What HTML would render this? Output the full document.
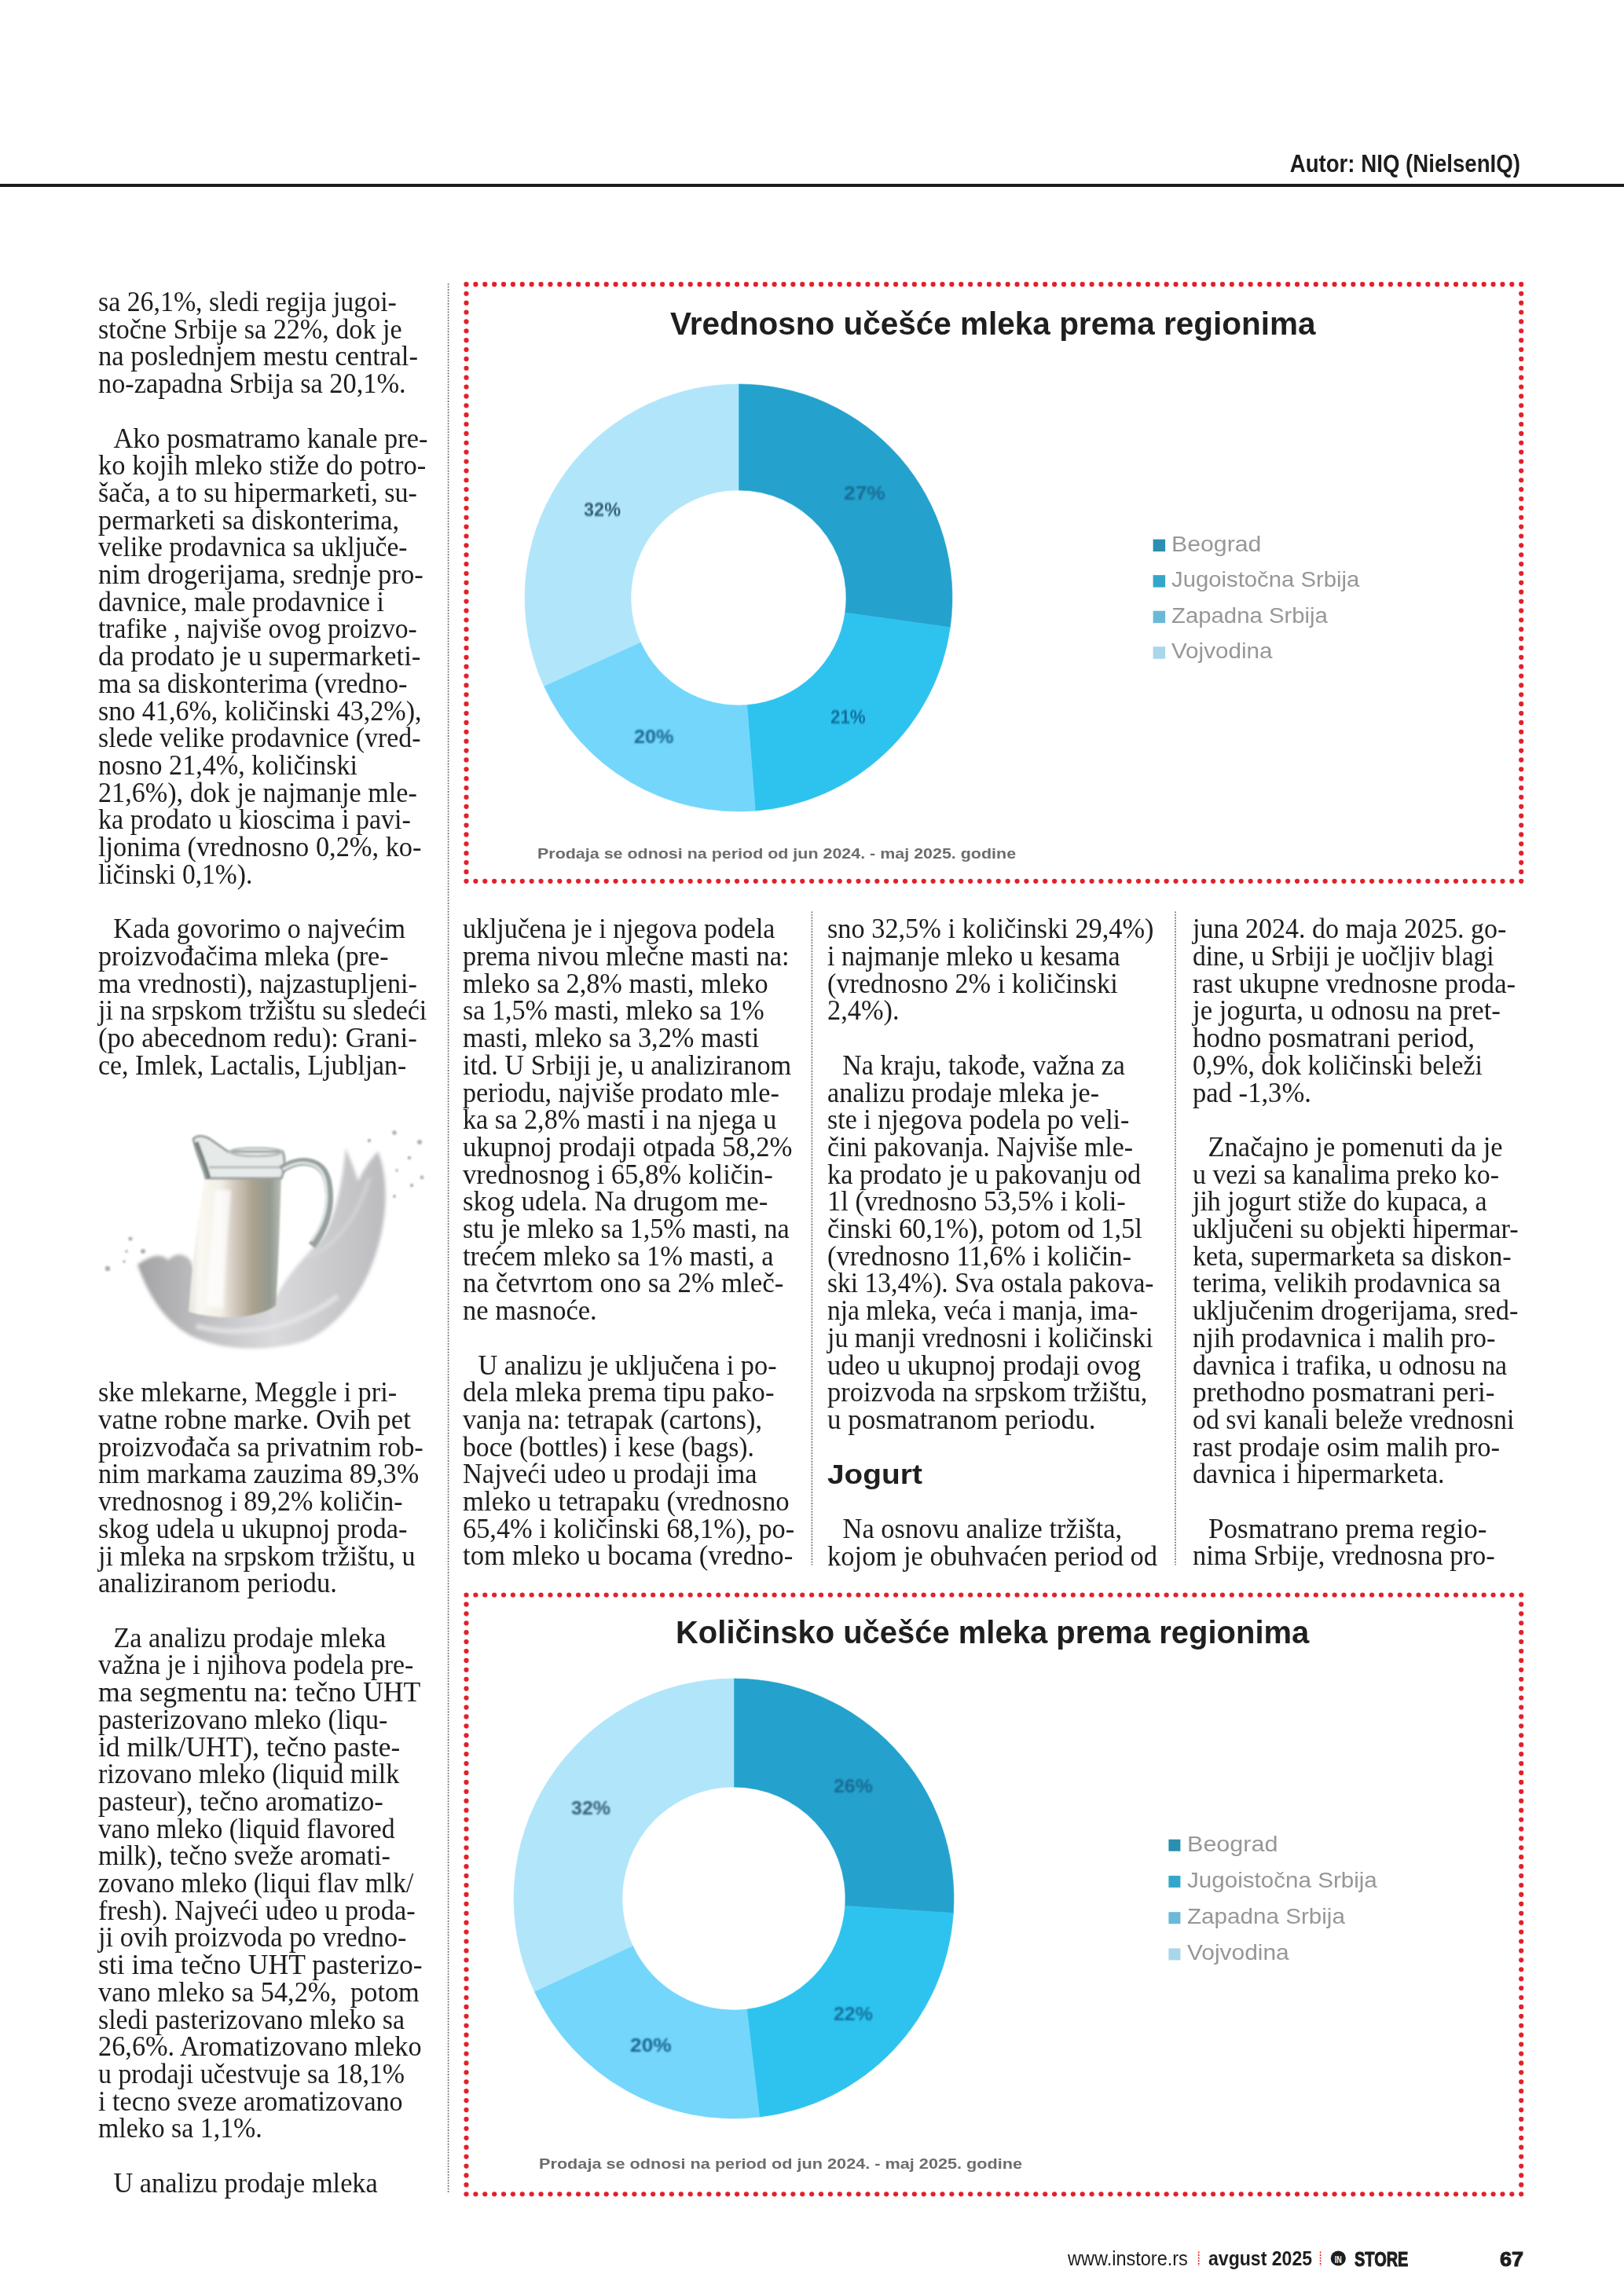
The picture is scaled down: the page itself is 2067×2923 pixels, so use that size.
<!DOCTYPE html>
<html lang="sr"><head><meta charset="utf-8"><title>InStore - mleko</title>
<style>
html,body{margin:0;padding:0;background:#fff;}
body{width:2067px;height:2923px;position:relative;overflow:hidden;}
.ov{position:absolute;left:0;top:0;}
.t{position:absolute;white-space:nowrap;}
.col{position:absolute;transform-origin:left top;font-family:'Liberation Serif', serif;font-size:36px;line-height:34.71px;color:#1d1d1b;white-space:nowrap;}
.bl{height:34.71px;transform-origin:left center;}
</style></head>
<body>
<svg class="ov" width="2067" height="2923" viewBox="0 0 2067 2923">
<rect x="0" y="234" width="2067" height="4" fill="#1d1d1b"/>
<line x1="570.6" y1="361" x2="570.6" y2="2792" stroke="#6e6e6e" stroke-width="1.7" stroke-dasharray="1.8 1.75"/>
<line x1="1033.4" y1="1160.5" x2="1033.4" y2="1992.5" stroke="#6e6e6e" stroke-width="1.7" stroke-dasharray="1.8 1.75"/>
<line x1="1496" y1="1160.5" x2="1496" y2="1992.5" stroke="#6e6e6e" stroke-width="1.7" stroke-dasharray="1.8 1.75"/>
<g fill="#e3202a"><circle cx="593.5" cy="361.9" r="3.1"/><circle cx="593.5" cy="373.77" r="3.1"/><circle cx="593.5" cy="385.65" r="3.1"/><circle cx="593.5" cy="397.52" r="3.1"/><circle cx="593.5" cy="409.39" r="3.1"/><circle cx="593.5" cy="421.27" r="3.1"/><circle cx="593.5" cy="433.14" r="3.1"/><circle cx="593.5" cy="445.01" r="3.1"/><circle cx="593.5" cy="456.89" r="3.1"/><circle cx="593.5" cy="468.76" r="3.1"/><circle cx="593.5" cy="480.63" r="3.1"/><circle cx="593.5" cy="492.51" r="3.1"/><circle cx="593.5" cy="504.38" r="3.1"/><circle cx="593.5" cy="516.25" r="3.1"/><circle cx="593.5" cy="528.13" r="3.1"/><circle cx="593.5" cy="540.0" r="3.1"/><circle cx="593.5" cy="551.88" r="3.1"/><circle cx="593.5" cy="563.75" r="3.1"/><circle cx="593.5" cy="575.62" r="3.1"/><circle cx="593.5" cy="587.5" r="3.1"/><circle cx="593.5" cy="599.37" r="3.1"/><circle cx="593.5" cy="611.24" r="3.1"/><circle cx="593.5" cy="623.12" r="3.1"/><circle cx="593.5" cy="634.99" r="3.1"/><circle cx="593.5" cy="646.86" r="3.1"/><circle cx="593.5" cy="658.74" r="3.1"/><circle cx="593.5" cy="670.61" r="3.1"/><circle cx="593.5" cy="682.48" r="3.1"/><circle cx="593.5" cy="694.36" r="3.1"/><circle cx="593.5" cy="706.23" r="3.1"/><circle cx="593.5" cy="718.1" r="3.1"/><circle cx="593.5" cy="729.98" r="3.1"/><circle cx="593.5" cy="741.85" r="3.1"/><circle cx="593.5" cy="753.72" r="3.1"/><circle cx="593.5" cy="765.6" r="3.1"/><circle cx="593.5" cy="777.47" r="3.1"/><circle cx="593.5" cy="789.34" r="3.1"/><circle cx="593.5" cy="801.22" r="3.1"/><circle cx="593.5" cy="813.09" r="3.1"/><circle cx="593.5" cy="824.96" r="3.1"/><circle cx="593.5" cy="836.84" r="3.1"/><circle cx="593.5" cy="848.71" r="3.1"/><circle cx="593.5" cy="860.58" r="3.1"/><circle cx="593.5" cy="872.46" r="3.1"/><circle cx="593.5" cy="884.33" r="3.1"/><circle cx="593.5" cy="896.2" r="3.1"/><circle cx="593.5" cy="908.08" r="3.1"/><circle cx="593.5" cy="919.95" r="3.1"/><circle cx="593.5" cy="931.82" r="3.1"/><circle cx="593.5" cy="943.7" r="3.1"/><circle cx="593.5" cy="955.57" r="3.1"/><circle cx="593.5" cy="967.45" r="3.1"/><circle cx="593.5" cy="979.32" r="3.1"/><circle cx="593.5" cy="991.19" r="3.1"/><circle cx="593.5" cy="1003.07" r="3.1"/><circle cx="593.5" cy="1014.94" r="3.1"/><circle cx="593.5" cy="1026.81" r="3.1"/><circle cx="593.5" cy="1038.69" r="3.1"/><circle cx="593.5" cy="1050.56" r="3.1"/><circle cx="593.5" cy="1062.43" r="3.1"/><circle cx="593.5" cy="1074.31" r="3.1"/><circle cx="593.5" cy="1086.18" r="3.1"/><circle cx="593.5" cy="1098.05" r="3.1"/><circle cx="593.5" cy="1109.93" r="3.1"/><circle cx="593.5" cy="1121.8" r="3.1"/><circle cx="605.38" cy="361.9" r="3.1"/><circle cx="605.38" cy="1121.8" r="3.1"/><circle cx="617.26" cy="361.9" r="3.1"/><circle cx="617.26" cy="1121.8" r="3.1"/><circle cx="629.15" cy="361.9" r="3.1"/><circle cx="629.15" cy="1121.8" r="3.1"/><circle cx="641.03" cy="361.9" r="3.1"/><circle cx="641.03" cy="1121.8" r="3.1"/><circle cx="652.91" cy="361.9" r="3.1"/><circle cx="652.91" cy="1121.8" r="3.1"/><circle cx="664.79" cy="361.9" r="3.1"/><circle cx="664.79" cy="1121.8" r="3.1"/><circle cx="676.68" cy="361.9" r="3.1"/><circle cx="676.68" cy="1121.8" r="3.1"/><circle cx="688.56" cy="361.9" r="3.1"/><circle cx="688.56" cy="1121.8" r="3.1"/><circle cx="700.44" cy="361.9" r="3.1"/><circle cx="700.44" cy="1121.8" r="3.1"/><circle cx="712.32" cy="361.9" r="3.1"/><circle cx="712.32" cy="1121.8" r="3.1"/><circle cx="724.21" cy="361.9" r="3.1"/><circle cx="724.21" cy="1121.8" r="3.1"/><circle cx="736.09" cy="361.9" r="3.1"/><circle cx="736.09" cy="1121.8" r="3.1"/><circle cx="747.97" cy="361.9" r="3.1"/><circle cx="747.97" cy="1121.8" r="3.1"/><circle cx="759.85" cy="361.9" r="3.1"/><circle cx="759.85" cy="1121.8" r="3.1"/><circle cx="771.73" cy="361.9" r="3.1"/><circle cx="771.73" cy="1121.8" r="3.1"/><circle cx="783.62" cy="361.9" r="3.1"/><circle cx="783.62" cy="1121.8" r="3.1"/><circle cx="795.5" cy="361.9" r="3.1"/><circle cx="795.5" cy="1121.8" r="3.1"/><circle cx="807.38" cy="361.9" r="3.1"/><circle cx="807.38" cy="1121.8" r="3.1"/><circle cx="819.26" cy="361.9" r="3.1"/><circle cx="819.26" cy="1121.8" r="3.1"/><circle cx="831.15" cy="361.9" r="3.1"/><circle cx="831.15" cy="1121.8" r="3.1"/><circle cx="843.03" cy="361.9" r="3.1"/><circle cx="843.03" cy="1121.8" r="3.1"/><circle cx="854.91" cy="361.9" r="3.1"/><circle cx="854.91" cy="1121.8" r="3.1"/><circle cx="866.79" cy="361.9" r="3.1"/><circle cx="866.79" cy="1121.8" r="3.1"/><circle cx="878.68" cy="361.9" r="3.1"/><circle cx="878.68" cy="1121.8" r="3.1"/><circle cx="890.56" cy="361.9" r="3.1"/><circle cx="890.56" cy="1121.8" r="3.1"/><circle cx="902.44" cy="361.9" r="3.1"/><circle cx="902.44" cy="1121.8" r="3.1"/><circle cx="914.32" cy="361.9" r="3.1"/><circle cx="914.32" cy="1121.8" r="3.1"/><circle cx="926.2" cy="361.9" r="3.1"/><circle cx="926.2" cy="1121.8" r="3.1"/><circle cx="938.09" cy="361.9" r="3.1"/><circle cx="938.09" cy="1121.8" r="3.1"/><circle cx="949.97" cy="361.9" r="3.1"/><circle cx="949.97" cy="1121.8" r="3.1"/><circle cx="961.85" cy="361.9" r="3.1"/><circle cx="961.85" cy="1121.8" r="3.1"/><circle cx="973.73" cy="361.9" r="3.1"/><circle cx="973.73" cy="1121.8" r="3.1"/><circle cx="985.62" cy="361.9" r="3.1"/><circle cx="985.62" cy="1121.8" r="3.1"/><circle cx="997.5" cy="361.9" r="3.1"/><circle cx="997.5" cy="1121.8" r="3.1"/><circle cx="1009.38" cy="361.9" r="3.1"/><circle cx="1009.38" cy="1121.8" r="3.1"/><circle cx="1021.26" cy="361.9" r="3.1"/><circle cx="1021.26" cy="1121.8" r="3.1"/><circle cx="1033.15" cy="361.9" r="3.1"/><circle cx="1033.15" cy="1121.8" r="3.1"/><circle cx="1045.03" cy="361.9" r="3.1"/><circle cx="1045.03" cy="1121.8" r="3.1"/><circle cx="1056.91" cy="361.9" r="3.1"/><circle cx="1056.91" cy="1121.8" r="3.1"/><circle cx="1068.79" cy="361.9" r="3.1"/><circle cx="1068.79" cy="1121.8" r="3.1"/><circle cx="1080.67" cy="361.9" r="3.1"/><circle cx="1080.67" cy="1121.8" r="3.1"/><circle cx="1092.56" cy="361.9" r="3.1"/><circle cx="1092.56" cy="1121.8" r="3.1"/><circle cx="1104.44" cy="361.9" r="3.1"/><circle cx="1104.44" cy="1121.8" r="3.1"/><circle cx="1116.32" cy="361.9" r="3.1"/><circle cx="1116.32" cy="1121.8" r="3.1"/><circle cx="1128.2" cy="361.9" r="3.1"/><circle cx="1128.2" cy="1121.8" r="3.1"/><circle cx="1140.09" cy="361.9" r="3.1"/><circle cx="1140.09" cy="1121.8" r="3.1"/><circle cx="1151.97" cy="361.9" r="3.1"/><circle cx="1151.97" cy="1121.8" r="3.1"/><circle cx="1163.85" cy="361.9" r="3.1"/><circle cx="1163.85" cy="1121.8" r="3.1"/><circle cx="1175.73" cy="361.9" r="3.1"/><circle cx="1175.73" cy="1121.8" r="3.1"/><circle cx="1187.62" cy="361.9" r="3.1"/><circle cx="1187.62" cy="1121.8" r="3.1"/><circle cx="1199.5" cy="361.9" r="3.1"/><circle cx="1199.5" cy="1121.8" r="3.1"/><circle cx="1211.38" cy="361.9" r="3.1"/><circle cx="1211.38" cy="1121.8" r="3.1"/><circle cx="1223.26" cy="361.9" r="3.1"/><circle cx="1223.26" cy="1121.8" r="3.1"/><circle cx="1235.14" cy="361.9" r="3.1"/><circle cx="1235.14" cy="1121.8" r="3.1"/><circle cx="1247.03" cy="361.9" r="3.1"/><circle cx="1247.03" cy="1121.8" r="3.1"/><circle cx="1258.91" cy="361.9" r="3.1"/><circle cx="1258.91" cy="1121.8" r="3.1"/><circle cx="1270.79" cy="361.9" r="3.1"/><circle cx="1270.79" cy="1121.8" r="3.1"/><circle cx="1282.67" cy="361.9" r="3.1"/><circle cx="1282.67" cy="1121.8" r="3.1"/><circle cx="1294.56" cy="361.9" r="3.1"/><circle cx="1294.56" cy="1121.8" r="3.1"/><circle cx="1306.44" cy="361.9" r="3.1"/><circle cx="1306.44" cy="1121.8" r="3.1"/><circle cx="1318.32" cy="361.9" r="3.1"/><circle cx="1318.32" cy="1121.8" r="3.1"/><circle cx="1330.2" cy="361.9" r="3.1"/><circle cx="1330.2" cy="1121.8" r="3.1"/><circle cx="1342.08" cy="361.9" r="3.1"/><circle cx="1342.08" cy="1121.8" r="3.1"/><circle cx="1353.97" cy="361.9" r="3.1"/><circle cx="1353.97" cy="1121.8" r="3.1"/><circle cx="1365.85" cy="361.9" r="3.1"/><circle cx="1365.85" cy="1121.8" r="3.1"/><circle cx="1377.73" cy="361.9" r="3.1"/><circle cx="1377.73" cy="1121.8" r="3.1"/><circle cx="1389.61" cy="361.9" r="3.1"/><circle cx="1389.61" cy="1121.8" r="3.1"/><circle cx="1401.5" cy="361.9" r="3.1"/><circle cx="1401.5" cy="1121.8" r="3.1"/><circle cx="1413.38" cy="361.9" r="3.1"/><circle cx="1413.38" cy="1121.8" r="3.1"/><circle cx="1425.26" cy="361.9" r="3.1"/><circle cx="1425.26" cy="1121.8" r="3.1"/><circle cx="1437.14" cy="361.9" r="3.1"/><circle cx="1437.14" cy="1121.8" r="3.1"/><circle cx="1449.03" cy="361.9" r="3.1"/><circle cx="1449.03" cy="1121.8" r="3.1"/><circle cx="1460.91" cy="361.9" r="3.1"/><circle cx="1460.91" cy="1121.8" r="3.1"/><circle cx="1472.79" cy="361.9" r="3.1"/><circle cx="1472.79" cy="1121.8" r="3.1"/><circle cx="1484.67" cy="361.9" r="3.1"/><circle cx="1484.67" cy="1121.8" r="3.1"/><circle cx="1496.55" cy="361.9" r="3.1"/><circle cx="1496.55" cy="1121.8" r="3.1"/><circle cx="1508.44" cy="361.9" r="3.1"/><circle cx="1508.44" cy="1121.8" r="3.1"/><circle cx="1520.32" cy="361.9" r="3.1"/><circle cx="1520.32" cy="1121.8" r="3.1"/><circle cx="1532.2" cy="361.9" r="3.1"/><circle cx="1532.2" cy="1121.8" r="3.1"/><circle cx="1544.08" cy="361.9" r="3.1"/><circle cx="1544.08" cy="1121.8" r="3.1"/><circle cx="1555.97" cy="361.9" r="3.1"/><circle cx="1555.97" cy="1121.8" r="3.1"/><circle cx="1567.85" cy="361.9" r="3.1"/><circle cx="1567.85" cy="1121.8" r="3.1"/><circle cx="1579.73" cy="361.9" r="3.1"/><circle cx="1579.73" cy="1121.8" r="3.1"/><circle cx="1591.61" cy="361.9" r="3.1"/><circle cx="1591.61" cy="1121.8" r="3.1"/><circle cx="1603.5" cy="361.9" r="3.1"/><circle cx="1603.5" cy="1121.8" r="3.1"/><circle cx="1615.38" cy="361.9" r="3.1"/><circle cx="1615.38" cy="1121.8" r="3.1"/><circle cx="1627.26" cy="361.9" r="3.1"/><circle cx="1627.26" cy="1121.8" r="3.1"/><circle cx="1639.14" cy="361.9" r="3.1"/><circle cx="1639.14" cy="1121.8" r="3.1"/><circle cx="1651.02" cy="361.9" r="3.1"/><circle cx="1651.02" cy="1121.8" r="3.1"/><circle cx="1662.91" cy="361.9" r="3.1"/><circle cx="1662.91" cy="1121.8" r="3.1"/><circle cx="1674.79" cy="361.9" r="3.1"/><circle cx="1674.79" cy="1121.8" r="3.1"/><circle cx="1686.67" cy="361.9" r="3.1"/><circle cx="1686.67" cy="1121.8" r="3.1"/><circle cx="1698.55" cy="361.9" r="3.1"/><circle cx="1698.55" cy="1121.8" r="3.1"/><circle cx="1710.44" cy="361.9" r="3.1"/><circle cx="1710.44" cy="1121.8" r="3.1"/><circle cx="1722.32" cy="361.9" r="3.1"/><circle cx="1722.32" cy="1121.8" r="3.1"/><circle cx="1734.2" cy="361.9" r="3.1"/><circle cx="1734.2" cy="1121.8" r="3.1"/><circle cx="1746.08" cy="361.9" r="3.1"/><circle cx="1746.08" cy="1121.8" r="3.1"/><circle cx="1757.97" cy="361.9" r="3.1"/><circle cx="1757.97" cy="1121.8" r="3.1"/><circle cx="1769.85" cy="361.9" r="3.1"/><circle cx="1769.85" cy="1121.8" r="3.1"/><circle cx="1781.73" cy="361.9" r="3.1"/><circle cx="1781.73" cy="1121.8" r="3.1"/><circle cx="1793.61" cy="361.9" r="3.1"/><circle cx="1793.61" cy="1121.8" r="3.1"/><circle cx="1805.49" cy="361.9" r="3.1"/><circle cx="1805.49" cy="1121.8" r="3.1"/><circle cx="1817.38" cy="361.9" r="3.1"/><circle cx="1817.38" cy="1121.8" r="3.1"/><circle cx="1829.26" cy="361.9" r="3.1"/><circle cx="1829.26" cy="1121.8" r="3.1"/><circle cx="1841.14" cy="361.9" r="3.1"/><circle cx="1841.14" cy="1121.8" r="3.1"/><circle cx="1853.02" cy="361.9" r="3.1"/><circle cx="1853.02" cy="1121.8" r="3.1"/><circle cx="1864.91" cy="361.9" r="3.1"/><circle cx="1864.91" cy="1121.8" r="3.1"/><circle cx="1876.79" cy="361.9" r="3.1"/><circle cx="1876.79" cy="1121.8" r="3.1"/><circle cx="1888.67" cy="361.9" r="3.1"/><circle cx="1888.67" cy="1121.8" r="3.1"/><circle cx="1900.55" cy="361.9" r="3.1"/><circle cx="1900.55" cy="1121.8" r="3.1"/><circle cx="1912.44" cy="361.9" r="3.1"/><circle cx="1912.44" cy="1121.8" r="3.1"/><circle cx="1924.32" cy="361.9" r="3.1"/><circle cx="1924.32" cy="1121.8" r="3.1"/><circle cx="1936.2" cy="361.9" r="3.1"/><circle cx="1936.2" cy="373.77" r="3.1"/><circle cx="1936.2" cy="385.65" r="3.1"/><circle cx="1936.2" cy="397.52" r="3.1"/><circle cx="1936.2" cy="409.39" r="3.1"/><circle cx="1936.2" cy="421.27" r="3.1"/><circle cx="1936.2" cy="433.14" r="3.1"/><circle cx="1936.2" cy="445.01" r="3.1"/><circle cx="1936.2" cy="456.89" r="3.1"/><circle cx="1936.2" cy="468.76" r="3.1"/><circle cx="1936.2" cy="480.63" r="3.1"/><circle cx="1936.2" cy="492.51" r="3.1"/><circle cx="1936.2" cy="504.38" r="3.1"/><circle cx="1936.2" cy="516.25" r="3.1"/><circle cx="1936.2" cy="528.13" r="3.1"/><circle cx="1936.2" cy="540.0" r="3.1"/><circle cx="1936.2" cy="551.88" r="3.1"/><circle cx="1936.2" cy="563.75" r="3.1"/><circle cx="1936.2" cy="575.62" r="3.1"/><circle cx="1936.2" cy="587.5" r="3.1"/><circle cx="1936.2" cy="599.37" r="3.1"/><circle cx="1936.2" cy="611.24" r="3.1"/><circle cx="1936.2" cy="623.12" r="3.1"/><circle cx="1936.2" cy="634.99" r="3.1"/><circle cx="1936.2" cy="646.86" r="3.1"/><circle cx="1936.2" cy="658.74" r="3.1"/><circle cx="1936.2" cy="670.61" r="3.1"/><circle cx="1936.2" cy="682.48" r="3.1"/><circle cx="1936.2" cy="694.36" r="3.1"/><circle cx="1936.2" cy="706.23" r="3.1"/><circle cx="1936.2" cy="718.1" r="3.1"/><circle cx="1936.2" cy="729.98" r="3.1"/><circle cx="1936.2" cy="741.85" r="3.1"/><circle cx="1936.2" cy="753.72" r="3.1"/><circle cx="1936.2" cy="765.6" r="3.1"/><circle cx="1936.2" cy="777.47" r="3.1"/><circle cx="1936.2" cy="789.34" r="3.1"/><circle cx="1936.2" cy="801.22" r="3.1"/><circle cx="1936.2" cy="813.09" r="3.1"/><circle cx="1936.2" cy="824.96" r="3.1"/><circle cx="1936.2" cy="836.84" r="3.1"/><circle cx="1936.2" cy="848.71" r="3.1"/><circle cx="1936.2" cy="860.58" r="3.1"/><circle cx="1936.2" cy="872.46" r="3.1"/><circle cx="1936.2" cy="884.33" r="3.1"/><circle cx="1936.2" cy="896.2" r="3.1"/><circle cx="1936.2" cy="908.08" r="3.1"/><circle cx="1936.2" cy="919.95" r="3.1"/><circle cx="1936.2" cy="931.82" r="3.1"/><circle cx="1936.2" cy="943.7" r="3.1"/><circle cx="1936.2" cy="955.57" r="3.1"/><circle cx="1936.2" cy="967.45" r="3.1"/><circle cx="1936.2" cy="979.32" r="3.1"/><circle cx="1936.2" cy="991.19" r="3.1"/><circle cx="1936.2" cy="1003.07" r="3.1"/><circle cx="1936.2" cy="1014.94" r="3.1"/><circle cx="1936.2" cy="1026.81" r="3.1"/><circle cx="1936.2" cy="1038.69" r="3.1"/><circle cx="1936.2" cy="1050.56" r="3.1"/><circle cx="1936.2" cy="1062.43" r="3.1"/><circle cx="1936.2" cy="1074.31" r="3.1"/><circle cx="1936.2" cy="1086.18" r="3.1"/><circle cx="1936.2" cy="1098.05" r="3.1"/><circle cx="1936.2" cy="1109.93" r="3.1"/><circle cx="1936.2" cy="1121.8" r="3.1"/><circle cx="593.5" cy="2030.5" r="3.1"/><circle cx="593.5" cy="2042.42" r="3.1"/><circle cx="593.5" cy="2054.34" r="3.1"/><circle cx="593.5" cy="2066.26" r="3.1"/><circle cx="593.5" cy="2078.18" r="3.1"/><circle cx="593.5" cy="2090.09" r="3.1"/><circle cx="593.5" cy="2102.01" r="3.1"/><circle cx="593.5" cy="2113.93" r="3.1"/><circle cx="593.5" cy="2125.85" r="3.1"/><circle cx="593.5" cy="2137.77" r="3.1"/><circle cx="593.5" cy="2149.69" r="3.1"/><circle cx="593.5" cy="2161.61" r="3.1"/><circle cx="593.5" cy="2173.53" r="3.1"/><circle cx="593.5" cy="2185.44" r="3.1"/><circle cx="593.5" cy="2197.36" r="3.1"/><circle cx="593.5" cy="2209.28" r="3.1"/><circle cx="593.5" cy="2221.2" r="3.1"/><circle cx="593.5" cy="2233.12" r="3.1"/><circle cx="593.5" cy="2245.04" r="3.1"/><circle cx="593.5" cy="2256.96" r="3.1"/><circle cx="593.5" cy="2268.88" r="3.1"/><circle cx="593.5" cy="2280.79" r="3.1"/><circle cx="593.5" cy="2292.71" r="3.1"/><circle cx="593.5" cy="2304.63" r="3.1"/><circle cx="593.5" cy="2316.55" r="3.1"/><circle cx="593.5" cy="2328.47" r="3.1"/><circle cx="593.5" cy="2340.39" r="3.1"/><circle cx="593.5" cy="2352.31" r="3.1"/><circle cx="593.5" cy="2364.22" r="3.1"/><circle cx="593.5" cy="2376.14" r="3.1"/><circle cx="593.5" cy="2388.06" r="3.1"/><circle cx="593.5" cy="2399.98" r="3.1"/><circle cx="593.5" cy="2411.9" r="3.1"/><circle cx="593.5" cy="2423.82" r="3.1"/><circle cx="593.5" cy="2435.74" r="3.1"/><circle cx="593.5" cy="2447.66" r="3.1"/><circle cx="593.5" cy="2459.58" r="3.1"/><circle cx="593.5" cy="2471.49" r="3.1"/><circle cx="593.5" cy="2483.41" r="3.1"/><circle cx="593.5" cy="2495.33" r="3.1"/><circle cx="593.5" cy="2507.25" r="3.1"/><circle cx="593.5" cy="2519.17" r="3.1"/><circle cx="593.5" cy="2531.09" r="3.1"/><circle cx="593.5" cy="2543.01" r="3.1"/><circle cx="593.5" cy="2554.93" r="3.1"/><circle cx="593.5" cy="2566.84" r="3.1"/><circle cx="593.5" cy="2578.76" r="3.1"/><circle cx="593.5" cy="2590.68" r="3.1"/><circle cx="593.5" cy="2602.6" r="3.1"/><circle cx="593.5" cy="2614.52" r="3.1"/><circle cx="593.5" cy="2626.44" r="3.1"/><circle cx="593.5" cy="2638.36" r="3.1"/><circle cx="593.5" cy="2650.28" r="3.1"/><circle cx="593.5" cy="2662.19" r="3.1"/><circle cx="593.5" cy="2674.11" r="3.1"/><circle cx="593.5" cy="2686.03" r="3.1"/><circle cx="593.5" cy="2697.95" r="3.1"/><circle cx="593.5" cy="2709.87" r="3.1"/><circle cx="593.5" cy="2721.79" r="3.1"/><circle cx="593.5" cy="2733.71" r="3.1"/><circle cx="593.5" cy="2745.62" r="3.1"/><circle cx="593.5" cy="2757.54" r="3.1"/><circle cx="593.5" cy="2769.46" r="3.1"/><circle cx="593.5" cy="2781.38" r="3.1"/><circle cx="593.5" cy="2793.3" r="3.1"/><circle cx="605.38" cy="2030.5" r="3.1"/><circle cx="605.38" cy="2793.3" r="3.1"/><circle cx="617.26" cy="2030.5" r="3.1"/><circle cx="617.26" cy="2793.3" r="3.1"/><circle cx="629.15" cy="2030.5" r="3.1"/><circle cx="629.15" cy="2793.3" r="3.1"/><circle cx="641.03" cy="2030.5" r="3.1"/><circle cx="641.03" cy="2793.3" r="3.1"/><circle cx="652.91" cy="2030.5" r="3.1"/><circle cx="652.91" cy="2793.3" r="3.1"/><circle cx="664.79" cy="2030.5" r="3.1"/><circle cx="664.79" cy="2793.3" r="3.1"/><circle cx="676.68" cy="2030.5" r="3.1"/><circle cx="676.68" cy="2793.3" r="3.1"/><circle cx="688.56" cy="2030.5" r="3.1"/><circle cx="688.56" cy="2793.3" r="3.1"/><circle cx="700.44" cy="2030.5" r="3.1"/><circle cx="700.44" cy="2793.3" r="3.1"/><circle cx="712.32" cy="2030.5" r="3.1"/><circle cx="712.32" cy="2793.3" r="3.1"/><circle cx="724.21" cy="2030.5" r="3.1"/><circle cx="724.21" cy="2793.3" r="3.1"/><circle cx="736.09" cy="2030.5" r="3.1"/><circle cx="736.09" cy="2793.3" r="3.1"/><circle cx="747.97" cy="2030.5" r="3.1"/><circle cx="747.97" cy="2793.3" r="3.1"/><circle cx="759.85" cy="2030.5" r="3.1"/><circle cx="759.85" cy="2793.3" r="3.1"/><circle cx="771.73" cy="2030.5" r="3.1"/><circle cx="771.73" cy="2793.3" r="3.1"/><circle cx="783.62" cy="2030.5" r="3.1"/><circle cx="783.62" cy="2793.3" r="3.1"/><circle cx="795.5" cy="2030.5" r="3.1"/><circle cx="795.5" cy="2793.3" r="3.1"/><circle cx="807.38" cy="2030.5" r="3.1"/><circle cx="807.38" cy="2793.3" r="3.1"/><circle cx="819.26" cy="2030.5" r="3.1"/><circle cx="819.26" cy="2793.3" r="3.1"/><circle cx="831.15" cy="2030.5" r="3.1"/><circle cx="831.15" cy="2793.3" r="3.1"/><circle cx="843.03" cy="2030.5" r="3.1"/><circle cx="843.03" cy="2793.3" r="3.1"/><circle cx="854.91" cy="2030.5" r="3.1"/><circle cx="854.91" cy="2793.3" r="3.1"/><circle cx="866.79" cy="2030.5" r="3.1"/><circle cx="866.79" cy="2793.3" r="3.1"/><circle cx="878.68" cy="2030.5" r="3.1"/><circle cx="878.68" cy="2793.3" r="3.1"/><circle cx="890.56" cy="2030.5" r="3.1"/><circle cx="890.56" cy="2793.3" r="3.1"/><circle cx="902.44" cy="2030.5" r="3.1"/><circle cx="902.44" cy="2793.3" r="3.1"/><circle cx="914.32" cy="2030.5" r="3.1"/><circle cx="914.32" cy="2793.3" r="3.1"/><circle cx="926.2" cy="2030.5" r="3.1"/><circle cx="926.2" cy="2793.3" r="3.1"/><circle cx="938.09" cy="2030.5" r="3.1"/><circle cx="938.09" cy="2793.3" r="3.1"/><circle cx="949.97" cy="2030.5" r="3.1"/><circle cx="949.97" cy="2793.3" r="3.1"/><circle cx="961.85" cy="2030.5" r="3.1"/><circle cx="961.85" cy="2793.3" r="3.1"/><circle cx="973.73" cy="2030.5" r="3.1"/><circle cx="973.73" cy="2793.3" r="3.1"/><circle cx="985.62" cy="2030.5" r="3.1"/><circle cx="985.62" cy="2793.3" r="3.1"/><circle cx="997.5" cy="2030.5" r="3.1"/><circle cx="997.5" cy="2793.3" r="3.1"/><circle cx="1009.38" cy="2030.5" r="3.1"/><circle cx="1009.38" cy="2793.3" r="3.1"/><circle cx="1021.26" cy="2030.5" r="3.1"/><circle cx="1021.26" cy="2793.3" r="3.1"/><circle cx="1033.15" cy="2030.5" r="3.1"/><circle cx="1033.15" cy="2793.3" r="3.1"/><circle cx="1045.03" cy="2030.5" r="3.1"/><circle cx="1045.03" cy="2793.3" r="3.1"/><circle cx="1056.91" cy="2030.5" r="3.1"/><circle cx="1056.91" cy="2793.3" r="3.1"/><circle cx="1068.79" cy="2030.5" r="3.1"/><circle cx="1068.79" cy="2793.3" r="3.1"/><circle cx="1080.67" cy="2030.5" r="3.1"/><circle cx="1080.67" cy="2793.3" r="3.1"/><circle cx="1092.56" cy="2030.5" r="3.1"/><circle cx="1092.56" cy="2793.3" r="3.1"/><circle cx="1104.44" cy="2030.5" r="3.1"/><circle cx="1104.44" cy="2793.3" r="3.1"/><circle cx="1116.32" cy="2030.5" r="3.1"/><circle cx="1116.32" cy="2793.3" r="3.1"/><circle cx="1128.2" cy="2030.5" r="3.1"/><circle cx="1128.2" cy="2793.3" r="3.1"/><circle cx="1140.09" cy="2030.5" r="3.1"/><circle cx="1140.09" cy="2793.3" r="3.1"/><circle cx="1151.97" cy="2030.5" r="3.1"/><circle cx="1151.97" cy="2793.3" r="3.1"/><circle cx="1163.85" cy="2030.5" r="3.1"/><circle cx="1163.85" cy="2793.3" r="3.1"/><circle cx="1175.73" cy="2030.5" r="3.1"/><circle cx="1175.73" cy="2793.3" r="3.1"/><circle cx="1187.62" cy="2030.5" r="3.1"/><circle cx="1187.62" cy="2793.3" r="3.1"/><circle cx="1199.5" cy="2030.5" r="3.1"/><circle cx="1199.5" cy="2793.3" r="3.1"/><circle cx="1211.38" cy="2030.5" r="3.1"/><circle cx="1211.38" cy="2793.3" r="3.1"/><circle cx="1223.26" cy="2030.5" r="3.1"/><circle cx="1223.26" cy="2793.3" r="3.1"/><circle cx="1235.14" cy="2030.5" r="3.1"/><circle cx="1235.14" cy="2793.3" r="3.1"/><circle cx="1247.03" cy="2030.5" r="3.1"/><circle cx="1247.03" cy="2793.3" r="3.1"/><circle cx="1258.91" cy="2030.5" r="3.1"/><circle cx="1258.91" cy="2793.3" r="3.1"/><circle cx="1270.79" cy="2030.5" r="3.1"/><circle cx="1270.79" cy="2793.3" r="3.1"/><circle cx="1282.67" cy="2030.5" r="3.1"/><circle cx="1282.67" cy="2793.3" r="3.1"/><circle cx="1294.56" cy="2030.5" r="3.1"/><circle cx="1294.56" cy="2793.3" r="3.1"/><circle cx="1306.44" cy="2030.5" r="3.1"/><circle cx="1306.44" cy="2793.3" r="3.1"/><circle cx="1318.32" cy="2030.5" r="3.1"/><circle cx="1318.32" cy="2793.3" r="3.1"/><circle cx="1330.2" cy="2030.5" r="3.1"/><circle cx="1330.2" cy="2793.3" r="3.1"/><circle cx="1342.08" cy="2030.5" r="3.1"/><circle cx="1342.08" cy="2793.3" r="3.1"/><circle cx="1353.97" cy="2030.5" r="3.1"/><circle cx="1353.97" cy="2793.3" r="3.1"/><circle cx="1365.85" cy="2030.5" r="3.1"/><circle cx="1365.85" cy="2793.3" r="3.1"/><circle cx="1377.73" cy="2030.5" r="3.1"/><circle cx="1377.73" cy="2793.3" r="3.1"/><circle cx="1389.61" cy="2030.5" r="3.1"/><circle cx="1389.61" cy="2793.3" r="3.1"/><circle cx="1401.5" cy="2030.5" r="3.1"/><circle cx="1401.5" cy="2793.3" r="3.1"/><circle cx="1413.38" cy="2030.5" r="3.1"/><circle cx="1413.38" cy="2793.3" r="3.1"/><circle cx="1425.26" cy="2030.5" r="3.1"/><circle cx="1425.26" cy="2793.3" r="3.1"/><circle cx="1437.14" cy="2030.5" r="3.1"/><circle cx="1437.14" cy="2793.3" r="3.1"/><circle cx="1449.03" cy="2030.5" r="3.1"/><circle cx="1449.03" cy="2793.3" r="3.1"/><circle cx="1460.91" cy="2030.5" r="3.1"/><circle cx="1460.91" cy="2793.3" r="3.1"/><circle cx="1472.79" cy="2030.5" r="3.1"/><circle cx="1472.79" cy="2793.3" r="3.1"/><circle cx="1484.67" cy="2030.5" r="3.1"/><circle cx="1484.67" cy="2793.3" r="3.1"/><circle cx="1496.55" cy="2030.5" r="3.1"/><circle cx="1496.55" cy="2793.3" r="3.1"/><circle cx="1508.44" cy="2030.5" r="3.1"/><circle cx="1508.44" cy="2793.3" r="3.1"/><circle cx="1520.32" cy="2030.5" r="3.1"/><circle cx="1520.32" cy="2793.3" r="3.1"/><circle cx="1532.2" cy="2030.5" r="3.1"/><circle cx="1532.2" cy="2793.3" r="3.1"/><circle cx="1544.08" cy="2030.5" r="3.1"/><circle cx="1544.08" cy="2793.3" r="3.1"/><circle cx="1555.97" cy="2030.5" r="3.1"/><circle cx="1555.97" cy="2793.3" r="3.1"/><circle cx="1567.85" cy="2030.5" r="3.1"/><circle cx="1567.85" cy="2793.3" r="3.1"/><circle cx="1579.73" cy="2030.5" r="3.1"/><circle cx="1579.73" cy="2793.3" r="3.1"/><circle cx="1591.61" cy="2030.5" r="3.1"/><circle cx="1591.61" cy="2793.3" r="3.1"/><circle cx="1603.5" cy="2030.5" r="3.1"/><circle cx="1603.5" cy="2793.3" r="3.1"/><circle cx="1615.38" cy="2030.5" r="3.1"/><circle cx="1615.38" cy="2793.3" r="3.1"/><circle cx="1627.26" cy="2030.5" r="3.1"/><circle cx="1627.26" cy="2793.3" r="3.1"/><circle cx="1639.14" cy="2030.5" r="3.1"/><circle cx="1639.14" cy="2793.3" r="3.1"/><circle cx="1651.02" cy="2030.5" r="3.1"/><circle cx="1651.02" cy="2793.3" r="3.1"/><circle cx="1662.91" cy="2030.5" r="3.1"/><circle cx="1662.91" cy="2793.3" r="3.1"/><circle cx="1674.79" cy="2030.5" r="3.1"/><circle cx="1674.79" cy="2793.3" r="3.1"/><circle cx="1686.67" cy="2030.5" r="3.1"/><circle cx="1686.67" cy="2793.3" r="3.1"/><circle cx="1698.55" cy="2030.5" r="3.1"/><circle cx="1698.55" cy="2793.3" r="3.1"/><circle cx="1710.44" cy="2030.5" r="3.1"/><circle cx="1710.44" cy="2793.3" r="3.1"/><circle cx="1722.32" cy="2030.5" r="3.1"/><circle cx="1722.32" cy="2793.3" r="3.1"/><circle cx="1734.2" cy="2030.5" r="3.1"/><circle cx="1734.2" cy="2793.3" r="3.1"/><circle cx="1746.08" cy="2030.5" r="3.1"/><circle cx="1746.08" cy="2793.3" r="3.1"/><circle cx="1757.97" cy="2030.5" r="3.1"/><circle cx="1757.97" cy="2793.3" r="3.1"/><circle cx="1769.85" cy="2030.5" r="3.1"/><circle cx="1769.85" cy="2793.3" r="3.1"/><circle cx="1781.73" cy="2030.5" r="3.1"/><circle cx="1781.73" cy="2793.3" r="3.1"/><circle cx="1793.61" cy="2030.5" r="3.1"/><circle cx="1793.61" cy="2793.3" r="3.1"/><circle cx="1805.49" cy="2030.5" r="3.1"/><circle cx="1805.49" cy="2793.3" r="3.1"/><circle cx="1817.38" cy="2030.5" r="3.1"/><circle cx="1817.38" cy="2793.3" r="3.1"/><circle cx="1829.26" cy="2030.5" r="3.1"/><circle cx="1829.26" cy="2793.3" r="3.1"/><circle cx="1841.14" cy="2030.5" r="3.1"/><circle cx="1841.14" cy="2793.3" r="3.1"/><circle cx="1853.02" cy="2030.5" r="3.1"/><circle cx="1853.02" cy="2793.3" r="3.1"/><circle cx="1864.91" cy="2030.5" r="3.1"/><circle cx="1864.91" cy="2793.3" r="3.1"/><circle cx="1876.79" cy="2030.5" r="3.1"/><circle cx="1876.79" cy="2793.3" r="3.1"/><circle cx="1888.67" cy="2030.5" r="3.1"/><circle cx="1888.67" cy="2793.3" r="3.1"/><circle cx="1900.55" cy="2030.5" r="3.1"/><circle cx="1900.55" cy="2793.3" r="3.1"/><circle cx="1912.44" cy="2030.5" r="3.1"/><circle cx="1912.44" cy="2793.3" r="3.1"/><circle cx="1924.32" cy="2030.5" r="3.1"/><circle cx="1924.32" cy="2793.3" r="3.1"/><circle cx="1936.2" cy="2030.5" r="3.1"/><circle cx="1936.2" cy="2042.42" r="3.1"/><circle cx="1936.2" cy="2054.34" r="3.1"/><circle cx="1936.2" cy="2066.26" r="3.1"/><circle cx="1936.2" cy="2078.18" r="3.1"/><circle cx="1936.2" cy="2090.09" r="3.1"/><circle cx="1936.2" cy="2102.01" r="3.1"/><circle cx="1936.2" cy="2113.93" r="3.1"/><circle cx="1936.2" cy="2125.85" r="3.1"/><circle cx="1936.2" cy="2137.77" r="3.1"/><circle cx="1936.2" cy="2149.69" r="3.1"/><circle cx="1936.2" cy="2161.61" r="3.1"/><circle cx="1936.2" cy="2173.53" r="3.1"/><circle cx="1936.2" cy="2185.44" r="3.1"/><circle cx="1936.2" cy="2197.36" r="3.1"/><circle cx="1936.2" cy="2209.28" r="3.1"/><circle cx="1936.2" cy="2221.2" r="3.1"/><circle cx="1936.2" cy="2233.12" r="3.1"/><circle cx="1936.2" cy="2245.04" r="3.1"/><circle cx="1936.2" cy="2256.96" r="3.1"/><circle cx="1936.2" cy="2268.88" r="3.1"/><circle cx="1936.2" cy="2280.79" r="3.1"/><circle cx="1936.2" cy="2292.71" r="3.1"/><circle cx="1936.2" cy="2304.63" r="3.1"/><circle cx="1936.2" cy="2316.55" r="3.1"/><circle cx="1936.2" cy="2328.47" r="3.1"/><circle cx="1936.2" cy="2340.39" r="3.1"/><circle cx="1936.2" cy="2352.31" r="3.1"/><circle cx="1936.2" cy="2364.22" r="3.1"/><circle cx="1936.2" cy="2376.14" r="3.1"/><circle cx="1936.2" cy="2388.06" r="3.1"/><circle cx="1936.2" cy="2399.98" r="3.1"/><circle cx="1936.2" cy="2411.9" r="3.1"/><circle cx="1936.2" cy="2423.82" r="3.1"/><circle cx="1936.2" cy="2435.74" r="3.1"/><circle cx="1936.2" cy="2447.66" r="3.1"/><circle cx="1936.2" cy="2459.58" r="3.1"/><circle cx="1936.2" cy="2471.49" r="3.1"/><circle cx="1936.2" cy="2483.41" r="3.1"/><circle cx="1936.2" cy="2495.33" r="3.1"/><circle cx="1936.2" cy="2507.25" r="3.1"/><circle cx="1936.2" cy="2519.17" r="3.1"/><circle cx="1936.2" cy="2531.09" r="3.1"/><circle cx="1936.2" cy="2543.01" r="3.1"/><circle cx="1936.2" cy="2554.93" r="3.1"/><circle cx="1936.2" cy="2566.84" r="3.1"/><circle cx="1936.2" cy="2578.76" r="3.1"/><circle cx="1936.2" cy="2590.68" r="3.1"/><circle cx="1936.2" cy="2602.6" r="3.1"/><circle cx="1936.2" cy="2614.52" r="3.1"/><circle cx="1936.2" cy="2626.44" r="3.1"/><circle cx="1936.2" cy="2638.36" r="3.1"/><circle cx="1936.2" cy="2650.28" r="3.1"/><circle cx="1936.2" cy="2662.19" r="3.1"/><circle cx="1936.2" cy="2674.11" r="3.1"/><circle cx="1936.2" cy="2686.03" r="3.1"/><circle cx="1936.2" cy="2697.95" r="3.1"/><circle cx="1936.2" cy="2709.87" r="3.1"/><circle cx="1936.2" cy="2721.79" r="3.1"/><circle cx="1936.2" cy="2733.71" r="3.1"/><circle cx="1936.2" cy="2745.62" r="3.1"/><circle cx="1936.2" cy="2757.54" r="3.1"/><circle cx="1936.2" cy="2769.46" r="3.1"/><circle cx="1936.2" cy="2781.38" r="3.1"/><circle cx="1936.2" cy="2793.3" r="3.1"/></g>
<path d="M940.00,489.00 A272,272 0 0 1 1209.35,798.86 L1075.67,780.07 A137,137 0 0 0 940.00,624.00 Z" fill="#24a2cd" stroke="#24a2cd" stroke-width="0.6"/><path d="M1209.35,798.86 A272,272 0 0 1 961.34,1032.16 L950.75,897.58 A137,137 0 0 0 1075.67,780.07 Z" fill="#2ec3ef" stroke="#2ec3ef" stroke-width="0.6"/><path d="M961.34,1032.16 A272,272 0 0 1 692.29,873.36 L815.24,817.60 A137,137 0 0 0 950.75,897.58 Z" fill="#74d6fb" stroke="#74d6fb" stroke-width="0.6"/><path d="M692.29,873.36 A272,272 0 0 1 940.00,489.00 L940.00,624.00 A137,137 0 0 0 815.24,817.60 Z" fill="#b1e5fa" stroke="#b1e5fa" stroke-width="0.6"/>
<path d="M934.00,2137.00 A280,280 0 0 1 1213.38,2435.56 L1075.69,2426.41 A142,142 0 0 0 934.00,2275.00 Z" fill="#24a2cd" stroke="#24a2cd" stroke-width="0.6"/><path d="M1213.38,2435.56 A280,280 0 0 1 966.67,2695.09 L950.57,2558.03 A142,142 0 0 0 1075.69,2426.41 Z" fill="#2ec3ef" stroke="#2ec3ef" stroke-width="0.6"/><path d="M966.67,2695.09 A280,280 0 0 1 680.23,2535.33 L805.30,2477.01 A142,142 0 0 0 950.57,2558.03 Z" fill="#74d6fb" stroke="#74d6fb" stroke-width="0.6"/><path d="M680.23,2535.33 A280,280 0 0 1 934.00,2137.00 L934.00,2275.00 A142,142 0 0 0 805.30,2477.01 Z" fill="#b1e5fa" stroke="#b1e5fa" stroke-width="0.6"/>
<rect x="1467.6" y="686.60" width="15.5" height="15.5" fill="#2a8fb0"/>
<rect x="1487.4" y="2341.70" width="15" height="15" fill="#2a8fb0"/>
<rect x="1467.6" y="732.15" width="15.5" height="15.5" fill="#34a6c9"/>
<rect x="1487.4" y="2387.95" width="15" height="15" fill="#34a6c9"/>
<rect x="1467.6" y="777.70" width="15.5" height="15.5" fill="#6bb9d9"/>
<rect x="1487.4" y="2434.20" width="15" height="15" fill="#6bb9d9"/>
<rect x="1467.6" y="823.25" width="15.5" height="15.5" fill="#a8d6ea"/>
<rect x="1487.4" y="2480.45" width="15" height="15" fill="#a8d6ea"/>
<line x1="1525.7" y1="2866.5" x2="1525.7" y2="2885" stroke="#e3202a" stroke-width="1.6" stroke-dasharray="2 1.6"/>
<line x1="1680.6" y1="2866.5" x2="1680.6" y2="2885" stroke="#e3202a" stroke-width="1.6" stroke-dasharray="2 1.6"/>
<circle cx="1703.3" cy="2875" r="9.6" fill="#1d1d1b"/>
<text x="1703.3" y="2881.2" text-anchor="middle" font-family="Liberation Sans" font-weight="700" font-size="12.5" fill="#fff" transform="translate(1703.3 0) scale(0.72 1) translate(-1703.3 0)">IN</text>
<defs>
<linearGradient id="jb" x1="0" y1="0" x2="1" y2="0">
<stop offset="0" stop-color="#e6e3da"/>
<stop offset="0.12" stop-color="#fbf9f3"/>
<stop offset="0.35" stop-color="#f2efe7"/>
<stop offset="0.47" stop-color="#d8cfc5"/>
<stop offset="0.7" stop-color="#a9a18e"/>
<stop offset="0.88" stop-color="#949a90"/>
<stop offset="1" stop-color="#b9beb7"/>
</linearGradient>
<linearGradient id="sw" x1="0" y1="0" x2="1" y2="0">
<stop offset="0" stop-color="#a3a3a5"/>
<stop offset="0.3" stop-color="#c3c3c6"/>
<stop offset="0.55" stop-color="#dadadd"/>
<stop offset="0.8" stop-color="#c9c9cc"/>
<stop offset="1" stop-color="#bcbcbf"/>
</linearGradient>
<filter id="bl1" x="-20%" y="-20%" width="140%" height="140%"><feGaussianBlur stdDeviation="2"/></filter>
<filter id="bl2" x="-20%" y="-20%" width="140%" height="140%"><feGaussianBlur stdDeviation="1"/></filter>
</defs>
<g filter="url(#bl1)">
<path d="M175,1610 C190,1600 203,1594 214,1604 C222,1596 232,1594 242,1604 L262,1650 L352,1650 C372,1612 398,1592 414,1570 C430,1540 436,1500 440,1462 C448,1480 452,1492 456,1504 C462,1490 470,1478 481,1466 C492,1492 494,1532 485,1572 C472,1630 442,1680 392,1706 C342,1722 282,1720 242,1700 C210,1682 190,1652 175,1610 Z" fill="url(#sw)"/>
<path d="M250,1688 C300,1702 370,1696 430,1650" fill="none" stroke="#e6e6e8" stroke-width="7" opacity="0.8"/>
<path d="M392,1600 C420,1590 452,1560 470,1500" fill="none" stroke="#d8d8da" stroke-width="5" opacity="0.7"/>
</g>
<!-- jug body -->
<path d="M261,1497 L358,1493 C356,1560 354,1620 351,1662 C330,1678 280,1682 240,1670 C244,1610 252,1550 261,1497 Z" fill="url(#jb)" filter="url(#bl2)"/>
<path d="M274,1515 C270,1560 266,1620 262,1662 L284,1666 C286,1620 290,1560 294,1515 Z" fill="#ffffff" opacity="0.75" filter="url(#bl1)"/>
<!-- glass neck and rim -->
<g filter="url(#bl2)">
<path d="M246,1450 C252,1444 262,1446 270,1452 L290,1466 L360,1466 C364,1478 362,1492 358,1500 L262,1500 C258,1484 250,1470 246,1450 Z" fill="#e6eae9" stroke="#9aa2a2" stroke-width="3"/>
<path d="M292,1466 C300,1460 352,1460 360,1466 C352,1474 300,1474 292,1466 Z" fill="none" stroke="#b5bbbb" stroke-width="2.5"/>
<path d="M250,1454 C256,1470 262,1485 266,1500" fill="none" stroke="#7a8383" stroke-width="5"/>
<path d="M266,1486 L358,1486" fill="none" stroke="#b9bfbf" stroke-width="3"/>
</g>
<!-- handle -->
<g filter="url(#bl2)">
<path d="M358,1489 C380,1474 410,1474 417,1504 C423,1534 415,1562 397,1586" fill="none" stroke="#98a0a0" stroke-width="10"/>
<path d="M360,1489 C380,1476 408,1476 414,1504 C419,1532 412,1558 396,1580" fill="none" stroke="#dfe3e3" stroke-width="3.5"/>
</g>
<!-- droplets -->
<g fill="#b0b0b2" filter="url(#bl2)">
<circle cx="166" cy="1577" r="2.6"/><circle cx="182" cy="1593" r="3"/><circle cx="137" cy="1615" r="3.2"/><circle cx="161" cy="1593" r="1.8"/><circle cx="158" cy="1606" r="1.8"/>
<circle cx="502" cy="1442" r="2.8"/><circle cx="534" cy="1454" r="3"/><circle cx="470" cy="1452" r="2.2"/><circle cx="521" cy="1474" r="2.2"/>
<circle cx="505" cy="1490" r="1.8"/><circle cx="537" cy="1499" r="2.4"/><circle cx="524" cy="1509" r="2.2"/><circle cx="502" cy="1523" r="2"/>
</g>

</svg>
<div id="t1" class="t" style="right:132.00px;top:192.56px;font-family:'Liberation Sans', sans-serif;font-size:31px;line-height:31px;font-weight:700;color:#1d1d1b;transform:scaleX(0.8915);transform-origin:right center;">Autor: NIQ (NielsenIQ)</div>
<div id="t2" class="t" style="left:853.20px;top:391.94px;font-family:'Liberation Sans', sans-serif;font-size:40px;line-height:40px;font-weight:700;color:#1f1f1f;transform:scaleX(1.0123);transform-origin:left center;">Vrednosno učešće mleka prema regionima</div>
<div id="t3" class="t" style="left:860.00px;top:2058.14px;font-family:'Liberation Sans', sans-serif;font-size:40px;line-height:40px;font-weight:700;color:#1f1f1f;transform:scaleX(0.9991);transform-origin:left center;">Količinsko učešće mleka prema regionima</div>
<div id="t4" class="t" style="left:1053.30px;top:1859.07px;font-family:'Liberation Sans', sans-serif;font-size:35px;line-height:35px;font-weight:700;color:#1f1f1f;transform:scaleX(1.1101);transform-origin:left center;">Jogurt</div>
<div id="t5" class="t" style="left:684.40px;top:1076.92px;font-family:'Liberation Sans', sans-serif;font-size:19px;line-height:19px;font-weight:700;color:#6c6c6c;transform:scaleX(1.1289);transform-origin:left center;filter:blur(0.5px);">Prodaja se odnosi na period od jun 2024. - maj 2025. godine</div>
<div id="t6" class="t" style="left:686.40px;top:2744.62px;font-family:'Liberation Sans', sans-serif;font-size:19px;line-height:19px;font-weight:700;color:#6c6c6c;transform:scaleX(1.1400);transform-origin:left center;filter:blur(0.5px);">Prodaja se odnosi na period od jun 2024. - maj 2025. godine</div>
<div id="t7" class="t" style="left:1491.00px;top:678.70px;font-family:'Liberation Sans', sans-serif;font-size:28px;line-height:28px;font-weight:400;color:#979797;transform:scaleX(1.0802);transform-origin:left center;filter:blur(0.6px);">Beograd</div>
<div id="t8" class="t" style="left:1511.00px;top:2333.70px;font-family:'Liberation Sans', sans-serif;font-size:28px;line-height:28px;font-weight:400;color:#979797;transform:scaleX(1.0910);transform-origin:left center;filter:blur(0.6px);">Beograd</div>
<div id="t9" class="t" style="left:1491.00px;top:724.25px;font-family:'Liberation Sans', sans-serif;font-size:28px;line-height:28px;font-weight:400;color:#979797;transform:scaleX(1.0463);transform-origin:left center;filter:blur(0.6px);">Jugoistočna Srbija</div>
<div id="t10" class="t" style="left:1511.00px;top:2379.95px;font-family:'Liberation Sans', sans-serif;font-size:28px;line-height:28px;font-weight:400;color:#979797;transform:scaleX(1.0568);transform-origin:left center;filter:blur(0.6px);">Jugoistočna Srbija</div>
<div id="t11" class="t" style="left:1491.00px;top:769.80px;font-family:'Liberation Sans', sans-serif;font-size:28px;line-height:28px;font-weight:400;color:#979797;transform:scaleX(1.0474);transform-origin:left center;filter:blur(0.6px);">Zapadna Srbija</div>
<div id="t12" class="t" style="left:1511.00px;top:2426.20px;font-family:'Liberation Sans', sans-serif;font-size:28px;line-height:28px;font-weight:400;color:#979797;transform:scaleX(1.0578);transform-origin:left center;filter:blur(0.6px);">Zapadna Srbija</div>
<div id="t13" class="t" style="left:1491.00px;top:815.35px;font-family:'Liberation Sans', sans-serif;font-size:28px;line-height:28px;font-weight:400;color:#979797;transform:scaleX(1.0579);transform-origin:left center;filter:blur(0.6px);">Vojvodina</div>
<div id="t14" class="t" style="left:1511.00px;top:2472.45px;font-family:'Liberation Sans', sans-serif;font-size:28px;line-height:28px;font-weight:400;color:#979797;transform:scaleX(1.0684);transform-origin:left center;filter:blur(0.6px);">Vojvodina</div>
<div id="t15" class="t" style="left:1073.50px;top:616.28px;font-family:'Liberation Sans', sans-serif;font-size:24px;line-height:24px;font-weight:700;color:#176a92;transform:scaleX(1.0958);transform-origin:left center;filter:blur(0.8px);">27%</div>
<div id="t16" class="t" style="left:742.50px;top:636.78px;font-family:'Liberation Sans', sans-serif;font-size:24px;line-height:24px;font-weight:700;color:#34607a;transform:scaleX(0.9792);transform-origin:left center;filter:blur(0.8px);">32%</div>
<div id="t17" class="t" style="left:1057.00px;top:901.28px;font-family:'Liberation Sans', sans-serif;font-size:24px;line-height:24px;font-weight:700;color:#10719b;transform:scaleX(0.9313);transform-origin:left center;filter:blur(0.8px);">21%</div>
<div id="t18" class="t" style="left:806.50px;top:926.28px;font-family:'Liberation Sans', sans-serif;font-size:24px;line-height:24px;font-weight:700;color:#1a6690;transform:scaleX(1.0458);transform-origin:left center;filter:blur(0.8px);">20%</div>
<div id="t19" class="t" style="left:1060.50px;top:2262.28px;font-family:'Liberation Sans', sans-serif;font-size:24px;line-height:24px;font-weight:700;color:#176a92;transform:scaleX(1.0375);transform-origin:left center;filter:blur(0.8px);">26%</div>
<div id="t20" class="t" style="left:727.20px;top:2290.28px;font-family:'Liberation Sans', sans-serif;font-size:24px;line-height:24px;font-weight:700;color:#34607a;transform:scaleX(1.0396);transform-origin:left center;filter:blur(0.8px);">32%</div>
<div id="t21" class="t" style="left:1060.50px;top:2552.28px;font-family:'Liberation Sans', sans-serif;font-size:24px;line-height:24px;font-weight:700;color:#10719b;transform:scaleX(1.0375);transform-origin:left center;filter:blur(0.8px);">22%</div>
<div id="t22" class="t" style="left:801.70px;top:2591.78px;font-family:'Liberation Sans', sans-serif;font-size:24px;line-height:24px;font-weight:700;color:#1a6690;transform:scaleX(1.0958);transform-origin:left center;filter:blur(0.8px);">20%</div>
<div id="t23" class="t" style="left:1359.40px;top:2863.34px;font-family:'Liberation Sans', sans-serif;font-size:25px;line-height:25px;font-weight:400;color:#1d1d1b;transform:scaleX(0.9405);transform-origin:left center;">www.instore.rs</div>
<div id="t24" class="t" style="left:1537.70px;top:2863.34px;font-family:'Liberation Sans', sans-serif;font-size:25px;line-height:25px;font-weight:700;color:#1d1d1b;transform:scaleX(0.9224);transform-origin:left center;">avgust 2025</div>
<div id="t25" class="t" style="left:1723.50px;top:2862.57px;font-family:'Liberation Sans', sans-serif;font-size:26.5px;line-height:26.5px;font-weight:700;color:#1d1d1b;transform:scaleX(0.7527);transform-origin:left center;-webkit-text-stroke:1.1px #1d1d1b;">STORE</div>
<div id="t26" class="t" style="left:1908.50px;top:2862.57px;font-family:'Liberation Sans', sans-serif;font-size:26.5px;line-height:26.5px;font-weight:700;color:#1d1d1b;transform:scaleX(1.0172);transform-origin:left center;-webkit-text-stroke:1.1px #1d1d1b;">67</div>
<div class="col" id="c1a" style="left:125.2px;top:367.00px;transform:scaleX(0.953);"><div class="bl" style="transform:scaleX(0.9867);">sa 26,1%, sledi regija jugoi-</div><div class="bl" style="transform:scaleX(0.9945);">stočne Srbije sa 22%, dok je</div><div class="bl" style="transform:scaleX(1.0100);">na poslednjem mestu central-</div><div class="bl">no-zapadna Srbija sa 20,1%.</div><div class="bl">&nbsp;</div><div class="bl" style="text-indent:20.46px;transform:scaleX(1.0018);">Ako posmatramo kanale pre-</div><div class="bl" style="transform:scaleX(1.0066);">ko kojih mleko stiže do potro-</div><div class="bl" style="transform:scaleX(0.9929);">šača, a to su hipermarketi, su-</div><div class="bl" style="transform:scaleX(1.0031);">permarketi sa diskonterima,</div><div class="bl" style="transform:scaleX(0.9763);">velike prodavnica sa uključe-</div><div class="bl" style="transform:scaleX(1.0101);">nim drogerijama, srednje pro-</div><div class="bl" style="transform:scaleX(0.9846);">davnice, male prodavnice i</div><div class="bl" style="transform:scaleX(0.9792);">trafike , najviše ovog proizvo-</div><div class="bl" style="transform:scaleX(1.0161);">da prodato je u supermarketi-</div><div class="bl">ma sa diskonterima (vredno-</div><div class="bl" style="transform:scaleX(0.9927);">sno 41,6%, količinski 43,2%),</div><div class="bl" style="transform:scaleX(0.9859);">slede velike prodavnice (vred-</div><div class="bl" style="transform:scaleX(0.9951);">nosno 21,4%, količinski</div><div class="bl" style="transform:scaleX(0.9952);">21,6%), dok je najmanje mle-</div><div class="bl" style="transform:scaleX(0.9920);">ka prodato u kioscima i pavi-</div><div class="bl" style="transform:scaleX(1.0020);">ljonima (vrednosno 0,2%, ko-</div><div class="bl" style="transform:scaleX(0.9763);">ličinski 0,1%).</div><div class="bl">&nbsp;</div><div class="bl" style="text-indent:20.46px;transform:scaleX(0.9929);">Kada govorimo o najvećim</div><div class="bl" style="transform:scaleX(0.9949);">proizvođačima mleka (pre-</div><div class="bl" style="transform:scaleX(0.9929);">ma vrednosti), najzastupljeni-</div><div class="bl" style="transform:scaleX(0.9910);">ji na srpskom tržištu su sledeći</div><div class="bl" style="transform:scaleX(1.0167);">(po abecednom redu): Grani-</div><div class="bl" style="transform:scaleX(0.9850);">ce, Imlek, Lactalis, Ljubljan-</div></div>
<div class="col" id="c1b" style="left:125.2px;top:1755.39px;transform:scaleX(0.953);"><div class="bl">ske mlekarne, Meggle i pri-</div><div class="bl" style="transform:scaleX(1.0163);">vatne robne marke. Ovih pet</div><div class="bl" style="transform:scaleX(1.0032);">proizvođača sa privatnim rob-</div><div class="bl" style="transform:scaleX(0.9963);">nim markama zauzima 89,3%</div><div class="bl" style="transform:scaleX(0.9924);">vrednosnog i 89,2% količin-</div><div class="bl" style="transform:scaleX(1.0021);">skog udela u ukupnoj proda-</div><div class="bl" style="transform:scaleX(0.9943);">ji mleka na srpskom tržištu, u</div><div class="bl" style="transform:scaleX(1.0095);">analiziranom periodu.</div><div class="bl">&nbsp;</div><div class="bl" style="text-indent:20.46px;transform:scaleX(0.9974);">Za analizu prodaje mleka</div><div class="bl" style="transform:scaleX(0.9866);">važna je i njihova podela pre-</div><div class="bl" style="transform:scaleX(1.0405);">ma segmentu na: tečno UHT</div><div class="bl" style="transform:scaleX(0.9969);">pasterizovano mleko (liqu-</div><div class="bl" style="transform:scaleX(1.0343);">id milk/UHT), tečno paste-</div><div class="bl" style="transform:scaleX(0.9930);">rizovano mleko (liquid milk</div><div class="bl" style="transform:scaleX(1.0103);">pasteur), tečno aromatizo-</div><div class="bl" style="transform:scaleX(0.9832);">vano mleko (liquid flavored</div><div class="bl" style="transform:scaleX(0.9909);">milk), tečno sveže aromati-</div><div class="bl" style="transform:scaleX(0.9795);">zovano mleko (liqui flav mlk/</div><div class="bl" style="transform:scaleX(1.0016);">fresh). Najveći udeo u proda-</div><div class="bl">ji ovih proizvoda po vredno-</div><div class="bl" style="transform:scaleX(1.0377);">sti ima tečno UHT pasterizo-</div><div class="bl">vano mleko sa 54,2%,&nbsp; potom</div><div class="bl" style="transform:scaleX(0.9864);">sledi pasterizovano mleko sa</div><div class="bl">26,6%. Aromatizovano mleko</div><div class="bl" style="transform:scaleX(0.9864);">u prodaji učestvuje sa 18,1%</div><div class="bl" style="transform:scaleX(0.9951);">i tecno sveze aromatizovano</div><div class="bl" style="transform:scaleX(0.9871);">mleko sa 1,1%.</div><div class="bl">&nbsp;</div><div class="bl" style="text-indent:20.46px;">U analizu prodaje mleka</div></div>
<div class="col" id="c2" style="left:589.4px;top:1165.32px;transform:scaleX(0.953);"><div class="bl" style="transform:scaleX(0.9885);">uključena je i njegova podela</div><div class="bl" style="transform:scaleX(1.0054);">prema nivou mlečne masti na:</div><div class="bl">mleko sa 2,8% masti, mleko</div><div class="bl" style="transform:scaleX(0.9943);">sa 1,5% masti, mleko sa 1%</div><div class="bl">masti, mleko sa 3,2% masti</div><div class="bl">itd. U Srbiji je, u analiziranom</div><div class="bl" style="transform:scaleX(0.9974);">periodu, najviše prodato mle-</div><div class="bl" style="transform:scaleX(0.9979);">ka sa 2,8% masti i na njega u</div><div class="bl" style="transform:scaleX(1.0096);">ukupnoj prodaji otpada 58,2%</div><div class="bl" style="transform:scaleX(1.0103);">vrednosnog i 65,8% količin-</div><div class="bl" style="transform:scaleX(1.0163);">skog udela. Na drugom me-</div><div class="bl" style="transform:scaleX(0.9961);">stu je mleko sa 1,5% masti, na</div><div class="bl" style="transform:scaleX(1.0030);">trećem mleko sa 1% masti, a</div><div class="bl" style="transform:scaleX(1.0183);">na četvrtom ono sa 2% mleč-</div><div class="bl" style="transform:scaleX(1.0067);">ne masnoće.</div><div class="bl">&nbsp;</div><div class="bl" style="text-indent:20.46px;">U analizu je uključena i po-</div><div class="bl" style="transform:scaleX(1.0102);">dela mleka prema tipu pako-</div><div class="bl" style="transform:scaleX(0.9950);">vanja na: tetrapak (cartons),</div><div class="bl" style="transform:scaleX(0.9807);">boce (bottles) i kese (bags).</div><div class="bl" style="transform:scaleX(1.0031);">Najveći udeo u prodaji ima</div><div class="bl" style="transform:scaleX(1.0124);">mleko u tetrapaku (vrednosno</div><div class="bl">65,4% i količinski 68,1%), po-</div><div class="bl" style="transform:scaleX(1.0118);">tom mleko u bocama (vredno-</div></div>
<div class="col" id="c3a" style="left:1053.3px;top:1165.32px;transform:scaleX(0.953);"><div class="bl">sno 32,5% i količinski 29,4%)</div><div class="bl" style="transform:scaleX(0.9924);">i najmanje mleko u kesama</div><div class="bl" style="transform:scaleX(0.9974);">(vrednosno 2% i količinski</div><div class="bl">2,4%).</div><div class="bl">&nbsp;</div><div class="bl" style="text-indent:20.46px;transform:scaleX(0.9884);">Na kraju, takođe, važna za</div><div class="bl" style="transform:scaleX(0.9952);">analizu prodaje mleka je-</div><div class="bl" style="transform:scaleX(0.9913);">ste i njegova podela po veli-</div><div class="bl" style="transform:scaleX(0.9863);">čini pakovanja. Najviše mle-</div><div class="bl">ka prodato je u pakovanju od</div><div class="bl" style="transform:scaleX(1.0040);">1l (vrednosno 53,5% i koli-</div><div class="bl" style="transform:scaleX(1.0040);">činski 60,1%), potom od 1,5l</div><div class="bl" style="transform:scaleX(1.0089);">(vrednosno 11,6% i količin-</div><div class="bl" style="transform:scaleX(0.9778);">ski 13,4%). Sva ostala pakova-</div><div class="bl" style="transform:scaleX(0.9767);">nja mleka, veća i manja, ima-</div><div class="bl" style="transform:scaleX(0.9888);">ju manji vrednosni i količinski</div><div class="bl" style="transform:scaleX(1.0066);">udeo u ukupnoj prodaji ovog</div><div class="bl" style="transform:scaleX(1.0034);">proizvoda na srpskom tržištu,</div><div class="bl" style="transform:scaleX(1.0208);">u posmatranom periodu.</div></div>
<div class="col" id="c3b" style="left:1053.3px;top:1928.94px;transform:scaleX(0.953);"><div class="bl" style="text-indent:20.46px;transform:scaleX(1.0035);">Na osnovu analize tržišta,</div><div class="bl" style="transform:scaleX(1.0067);">kojom je obuhvaćen period od</div></div>
<div class="col" id="c4" style="left:1517.7px;top:1165.32px;transform:scaleX(0.953);"><div class="bl" style="transform:scaleX(0.9905);">juna 2024. do maja 2025. go-</div><div class="bl" style="transform:scaleX(0.9771);">dine, u Srbiji je uočljiv blagi</div><div class="bl" style="transform:scaleX(1.0106);">rast ukupne vrednosne proda-</div><div class="bl" style="transform:scaleX(1.0131);">je jogurta, u odnosu na pret-</div><div class="bl" style="transform:scaleX(1.0208);">hodno posmatrani period,</div><div class="bl" style="transform:scaleX(0.9854);">0,9%, dok količinski beleži</div><div class="bl" style="transform:scaleX(1.0088);">pad -1,3%.</div><div class="bl">&nbsp;</div><div class="bl" style="text-indent:20.46px;transform:scaleX(1.0043);">Značajno je pomenuti da je</div><div class="bl" style="transform:scaleX(0.9865);">u vezi sa kanalima preko ko-</div><div class="bl" style="transform:scaleX(0.9877);">jih jogurt stiže do kupaca, a</div><div class="bl" style="transform:scaleX(1.0025);">uključeni su objekti hipermar-</div><div class="bl" style="transform:scaleX(0.9948);">keta, supermarketa sa diskon-</div><div class="bl" style="transform:scaleX(0.9842);">terima, velikih prodavnica sa</div><div class="bl">uključenim drogerijama, sred-</div><div class="bl" style="transform:scaleX(1.0015);">njih prodavnica i malih pro-</div><div class="bl" style="transform:scaleX(0.9858);">davnica i trafika, u odnosu na</div><div class="bl" style="transform:scaleX(1.0298);">prethodno posmatrani peri-</div><div class="bl" style="transform:scaleX(0.9854);">od svi kanali beleže vrednosni</div><div class="bl" style="transform:scaleX(1.0059);">rast prodaje osim malih pro-</div><div class="bl" style="transform:scaleX(0.9926);">davnica i hipermarketa.</div><div class="bl">&nbsp;</div><div class="bl" style="text-indent:20.46px;transform:scaleX(1.0225);">Posmatrano prema regio-</div><div class="bl" style="transform:scaleX(1.0042);">nima Srbije, vrednosna pro-</div></div>
</body></html>
